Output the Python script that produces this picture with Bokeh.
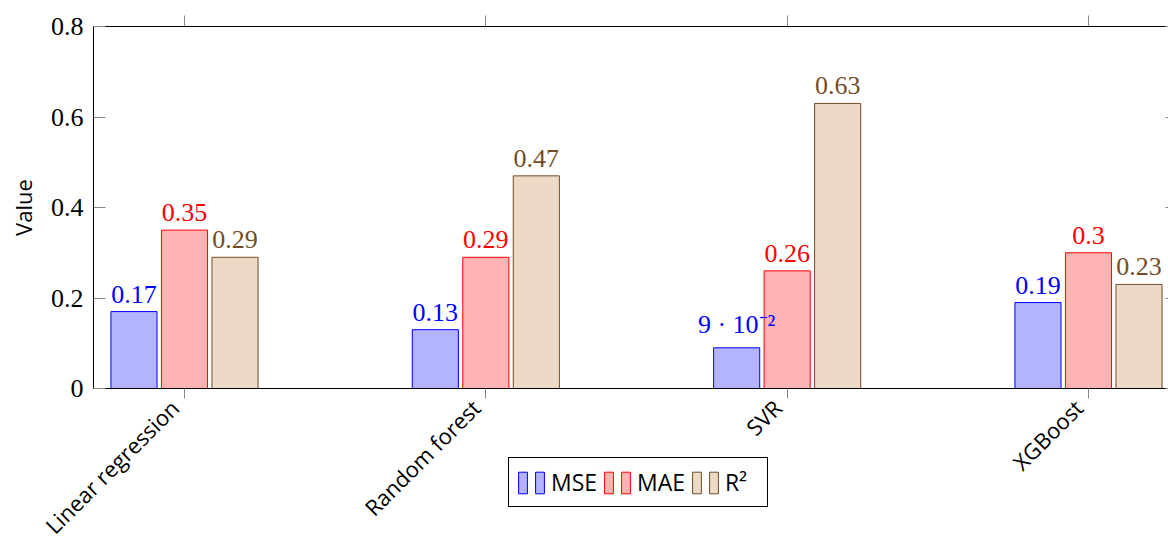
import math
from bokeh.plotting import figure
from bokeh.models import (Range1d, FixedTicker, LinearAxis, Legend, LegendItem,
                          CustomJSTickFormatter, ColumnDataSource)
from bokeh.embed import file_html
from bokeh.resources import INLINE
from bokeh.core.properties import value

categories = ["Linear regression", "Random forest", "SVR", "XGBoost"]
mse = [0.17, 0.13, 0.09, 0.19]
mae = [0.35, 0.29, 0.26, 0.30]
r2 = [0.29, 0.47, 0.63, 0.23]
series_names = ["MSE", "MAE", "R²"]
y_ticks = [0, 0.2, 0.4, 0.6, 0.8]

fills = ["#b3b3ff", "#ffb3b3", "#ecd9c6"]
lines = ["#0000ff", "#ff0000", "#734d26"]

SERIF = "Liberation Serif"
SANS = "Open Sans"
NBSP = "\u00a0"


def pgf_label(v):
    if v < 0.1:
        exp = int(math.floor(math.log10(v)))
        mant = round(v / 10 ** exp, 2)
        sup = str.maketrans("-0123456789", "⁻⁰¹²³⁴⁵⁶⁷⁸⁹")
        return f"{mant:g} · 10{str(exp).translate(sup)}"
    return f"{v:g}"


xpos = list(range(len(categories)))

# view window (frame covers the whole canvas; axes are pinned inside it)
X_MIN, X_MAX = -0.6106, 3.2655
Y_MIN, Y_MAX = -0.3337, 0.8575
AX_LEFT, AX_RIGHT = -0.302, 3.296      # x of left / right axis lines
AX_BOTTOM, AX_TOP = 0.0, 0.8           # y of bottom / top axis lines

p = figure(width=1168, height=539, output_backend="svg", toolbar_location=None,
           x_range=Range1d(X_MIN, X_MAX), y_range=Range1d(Y_MIN, Y_MAX),
           min_border=0)
p.outline_line_color = None
p.xgrid.visible = False
p.ygrid.visible = False

offset = 0.1676
bw = 0.153
renderers = []
sources = []
for k, vals in enumerate([mse, mae, r2]):
    xs = [i + (k - 1) * offset for i in xpos]
    src = ColumnDataSource(dict(x=xs, top=vals, label=[pgf_label(v) for v in vals]))
    sources.append(src)
    r = p.vbar(x="x", top="top", bottom=0, width=bw, source=src,
               fill_color=fills[k], line_color=lines[k], line_width=1)
    renderers.append(r)

for k, src in enumerate(sources):
    p.text(x="x", y="top", text="label", source=src, text_align="center",
           text_baseline="bottom", y_offset=-9,
           text_font=value(SERIF), text_font_size="26px", text_color=lines[k])

TICK_COLOR = "#888888"

# bottom axis at y = 0 (ticks; category names drawn below as rotated text)
xa = p.xaxis[0]
xa.fixed_location = AX_BOTTOM
xa.bounds = (AX_LEFT, AX_RIGHT)
xa.ticker = FixedTicker(ticks=xpos)
xa.major_tick_out = 10
xa.major_tick_in = 0
xa.minor_tick_line_color = None
xa.major_tick_line_color = TICK_COLOR
xa.axis_line_color = "black"
xa.major_label_text_color = None

cat_src = ColumnDataSource(dict(x=xpos, y=[AX_BOTTOM] * len(xpos), name=categories))
p.text(x="x", y="y", text="name", source=cat_src, angle=math.pi / 4,
       text_align="right", text_baseline="middle", x_offset=-10, y_offset=15,
       text_font=value(SANS), text_font_size="22px", text_color="black")

# top axis (ticks only)
ta = LinearAxis(fixed_location=AX_TOP, bounds=(AX_LEFT, AX_RIGHT),
                ticker=FixedTicker(ticks=xpos),
                major_tick_out=11, major_tick_in=0, major_label_text_color=None,
                minor_tick_line_color=None, major_tick_line_color=TICK_COLOR,
                axis_line_color="black")
p.add_layout(ta, "above")

# left axis
ya = p.yaxis[0]
ya.fixed_location = AX_LEFT
ya.bounds = (AX_BOTTOM, AX_TOP)
ya.ticker = FixedTicker(ticks=y_ticks)
ya.formatter = CustomJSTickFormatter(code="return tick == 0 ? '0' : tick.toFixed(1);")
ya.major_tick_in = 12
ya.major_tick_out = 0
ya.minor_tick_line_color = None
ya.major_tick_line_color = TICK_COLOR
ya.axis_line_color = "black"
ya.major_label_standoff = 10
ya.major_label_text_font = SERIF
ya.major_label_text_font_size = "26px"
ya.major_label_text_color = "black"
ya.axis_label = "Value"
ya.axis_label_text_font = SANS
ya.axis_label_text_font_size = "22px"
ya.axis_label_text_font_style = "normal"
ya.axis_label_text_color = "black"
ya.axis_label_standoff = 10

# right axis (ticks only)
ra = LinearAxis(fixed_location=AX_RIGHT, bounds=(AX_BOTTOM, AX_TOP),
                ticker=FixedTicker(ticks=y_ticks),
                major_tick_in=12, major_tick_out=0, major_label_text_color=None,
                minor_tick_line_color=None, major_tick_line_color=TICK_COLOR,
                axis_line_color="black")
p.add_layout(ra, "right")

items = []
for k, name in enumerate(series_names):
    tail = NBSP if k < len(series_names) - 1 else NBSP * 2
    items.append(LegendItem(label=NBSP, renderers=[renderers[k]]))
    items.append(LegendItem(label=NBSP + name + tail, renderers=[renderers[k]]))
legend = Legend(items=items, orientation="horizontal", location=(508, 32),
                glyph_width=11, glyph_height=27, label_standoff=0, spacing=0,
                padding=8, label_width=0, label_height=0,
                border_line_color="black", border_line_width=1, border_line_alpha=1,
                background_fill_color="white", background_fill_alpha=1,
                label_text_font=SANS, label_text_font_size="23px",
                label_text_color="black")
p.add_layout(legend)

open("out.html", "w").write(file_html(p, INLINE))
